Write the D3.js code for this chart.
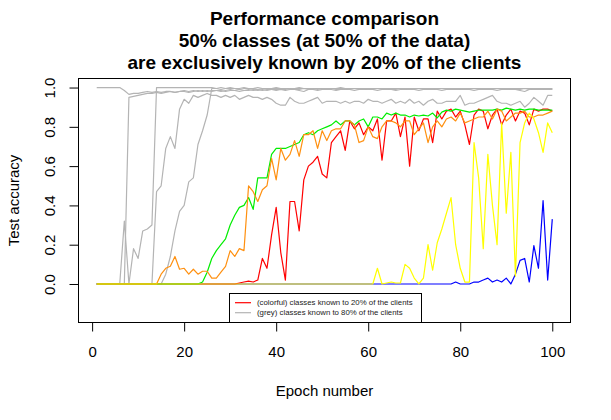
<!DOCTYPE html>
<html>
<head>
<meta charset="utf-8">
<script src="https://cdn.jsdelivr.net/npm/d3@7"></script>
<style>
  body { margin: 0; background: #fff; }
  svg { display: block; font-family: "Liberation Sans", Arial, sans-serif; }
</style>
</head>
<body>
<div id="chart"></div>
<script>
// Test accuracy per epoch, one array per class
const greyA = [
  1, 1, 1, 1, 1, 1, 0.985, 0.965, 0.97, 0.97,
  0.975, 0.98, 0.975, 0.98, 0.975, 0.98, 0.98, 0.975, 0.98, 0.985,
  0.98, 0.985, 0.98, 0.985, 0.98, 0.985, 0.985, 0.98, 0.985, 0.99,
  0.985, 0.98, 0.985, 0.99, 0.985, 0.99, 0.985, 0.99, 0.99, 0.985,
  0.99, 0.985, 0.99, 0.99, 0.985, 0.98, 0.99, 0.99, 0.985, 0.99,
  0.99, 0.99, 0.985, 0.99, 0.99, 0.99, 0.985, 0.99, 0.99, 0.99,
  0.99, 0.985, 0.99, 0.99, 0.99, 0.985, 0.99, 0.99, 0.99, 0.99,
  0.985, 0.99, 0.99, 0.99, 0.99, 0.985, 0.99, 0.99, 0.99, 0.99,
  0.99, 0.99, 0.985, 0.99, 0.99, 0.99, 0.99, 0.985, 0.99, 0.99,
  0.99, 0.99, 0.985, 0.98, 0.99, 0.99, 0.99, 0.99, 0.99, 0.99
];
const greyB = [
  0, 0, 0, 0, 0, 0, 0.32, 0, 0.18, 0.13,
  0.27, 0.28, 0.30, 1, 1, 1, 1, 1, 1, 1,
  1, 1, 1, 1, 1, 1, 0.995, 1, 0.995, 1,
  0.995, 0.995, 1, 0.995, 0.995, 1, 0.995, 0.995, 0.995, 1,
  0.995, 0.995, 0.995, 0.995, 1, 0.995, 0.995, 0.995, 0.995, 0.995,
  0.995, 0.995, 0.995, 1, 0.995, 0.995, 0.995, 0.995, 0.995, 0.995,
  0.995, 0.995, 0.995, 0.995, 0.995, 0.995, 0.995, 0.995, 0.995, 0.995,
  0.995, 0.995, 0.995, 0.995, 0.995, 0.995, 0.995, 0.995, 0.995, 0.995,
  0.995, 0.995, 0.995, 0.995, 0.995, 0.995, 0.995, 0.995, 0.995, 0.995,
  0.995, 0.995, 0.995, 0.995, 0.995, 0.995, 0.995, 0.995, 0.995, 0.995
];
const greyC = [
  0, 0, 0, 0, 0, 0, 0, 0.95, 0.955, 0.96,
  0.965, 0.97, 0.97, 0.975, 0.97, 0.975, 0.98, 0.975, 0.98, 0.98,
  0.975, 0.98, 0.985, 0.98, 0.985, 0.98, 0.985, 0.985, 0.98, 0.985,
  0.985, 0.99, 0.985, 0.985, 0.99, 0.985, 0.99, 0.985, 0.99, 0.99,
  0.99, 0.99, 0.995, 0.99, 0.99, 0.995, 0.99, 0.99, 0.995, 0.99,
  0.99, 0.995, 0.99, 0.99, 0.995, 0.99, 0.995, 0.99, 0.99, 0.995,
  0.99, 0.995, 0.99, 0.995, 0.99, 0.99, 0.995, 0.99, 0.995, 0.99,
  0.995, 0.99, 0.99, 0.995, 0.99, 0.995, 0.99, 0.99, 0.995, 0.99,
  0.995, 0.99, 0.995, 0.99, 0.99, 0.995, 0.99, 0.995, 0.99, 0.99,
  0.995, 0.99, 0.99, 0.995, 0.99, 0.995, 0.99, 0.99, 0.995, 0.99
];
const greyD = [
  0, 0, 0, 0, 0, 0, 0, 0, 0, 0,
  0, 0, 0, 0.47, 0.50, 0.69, 0.75, 0.69, 0.89, 0.94,
  0.92, 0.96, 0.95, 0.96, 0.97, 0.96, 0.96, 0.95, 0.96, 0.95,
  0.96, 0.94, 0.95, 0.96, 0.95, 0.95, 0.94, 0.95, 0.94, 0.92,
  0.91, 0.91, 0.95, 0.93, 0.92, 0.92, 0.93, 0.94, 0.95, 0.92,
  0.93, 0.93, 0.93, 0.92, 0.93, 0.92, 0.93, 0.93, 0.92, 0.94,
  0.93, 0.93, 0.92, 0.93, 0.94, 0.92, 0.93, 0.92, 0.94, 0.92,
  0.93, 0.91, 0.93, 0.94, 0.92, 0.92, 0.93, 0.93, 0.93, 0.96,
  0.91, 0.92, 0.92, 0.93, 0.94, 0.95, 0.96, 0.93, 0.92, 0.92,
  0.91, 0.92, 0.93, 0.90, 0.92, 0.95, 0.93, 0.91, 0.96, 0.96
];
const greyE = [
  0, 0, 0, 0, 0, 0, 0, 0, 0, 0,
  0, 0, 0, 0, 0, 0.05, 0.14, 0.27, 0.37, 0.40,
  0.52, 0.54, 0.71, 0.78, 0.86, 0.995, 0.995, 0.99, 0.995, 0.995,
  0.995, 0.99, 0.995, 0.995, 0.995, 0.99, 0.995, 0.995, 0.995, 0.995,
  0.995, 0.995, 0.99, 0.995, 0.995, 0.995, 0.995, 0.995, 0.99, 0.995,
  0.995, 0.995, 0.995, 0.995, 0.995, 0.995, 0.995, 0.995, 0.995, 0.995,
  0.995, 0.995, 0.995, 0.995, 0.995, 0.995, 0.995, 0.995, 0.995, 0.995,
  0.995, 0.995, 0.995, 0.995, 0.995, 0.995, 0.995, 0.995, 0.995, 0.995,
  0.995, 0.995, 0.995, 0.995, 0.995, 0.995, 0.995, 0.995, 0.995, 0.995,
  0.995, 0.995, 0.995, 0.995, 0.995, 0.995, 0.995, 0.995, 0.995, 0.995
];
const blueVals = [
  0, 0, 0, 0, 0, 0, 0, 0, 0, 0,
  0, 0, 0, 0, 0, 0, 0, 0, 0, 0,
  0, 0, 0, 0, 0, 0, 0, 0, 0, 0,
  0, 0, 0, 0, 0, 0, 0, 0, 0, 0,
  0, 0, 0, 0, 0, 0, 0, 0, 0, 0,
  0, 0, 0, 0, 0, 0, 0, 0, 0, 0,
  0, 0, 0, 0, 0, 0, 0, 0, 0, 0,
  0, 0, 0, 0, 0, 0, 0, 0, 0.01, 0,
  0, 0, 0.01, 0.01, 0.02, 0.03, 0.01, 0.02, 0.01, 0.03,
  0, 0.05, 0.12, 0.13, 0.01, 0.195, 0.08, 0.425, 0.02, 0.33
];
const redVals = [
  0, 0, 0, 0, 0, 0, 0, 0, 0, 0,
  0, 0, 0, 0, 0, 0, 0, 0, 0, 0,
  0, 0, 0, 0, 0, 0, 0, 0, 0, 0,
  0, 0.005, 0.01, 0.015, 0.01, 0.02, 0.13, 0.08, 0.25, 0.39,
  0.16, 0.02, 0.42, 0.42, 0.27, 0.53, 0.60, 0.62, 0.65, 0.56,
  0.54, 0.72, 0.75, 0.78, 0.68, 0.83, 0.79, 0.82, 0.76, 0.80,
  0.78, 0.84, 0.63, 0.83, 0.83, 0.87, 0.75, 0.85, 0.60, 0.85,
  0.78, 0.84, 0.84, 0.72, 0.88, 0.84, 0.88, 0.89, 0.85, 0.88,
  0.81, 0.71, 0.86, 0.89, 0.88, 0.79, 0.86, 0.89, 0.81, 0.86,
  0.89, 0.83, 0.88, 0.87, 0.81, 0.89, 0.88, 0.89, 0.89, 0.88
];
const greenVals = [
  0, 0, 0, 0, 0, 0, 0, 0, 0, 0,
  0, 0, 0, 0, 0, 0, 0, 0, 0, 0,
  0, 0, 0, 0.01, 0.06, 0.13, 0.17, 0.20, 0.23, 0.30,
  0.35, 0.39, 0.40, 0.44, 0.38, 0.54, 0.54, 0.54, 0.66, 0.69,
  0.69, 0.69, 0.70, 0.71, 0.72, 0.76, 0.77, 0.76, 0.78, 0.79,
  0.80, 0.81, 0.83, 0.81, 0.83, 0.83, 0.81, 0.83, 0.84, 0.80,
  0.85, 0.85, 0.84, 0.87, 0.86, 0.87, 0.86, 0.86, 0.85, 0.86,
  0.855, 0.86, 0.855, 0.87, 0.845, 0.875, 0.885, 0.88, 0.89, 0.885,
  0.88, 0.875, 0.88, 0.885, 0.885, 0.885, 0.885, 0.89, 0.885, 0.895,
  0.89, 0.885, 0.89, 0.885, 0.89, 0.89, 0.885, 0.885, 0.885, 0.885
];
const orangeVals = [
  0, 0, 0, 0, 0, 0, 0, 0, 0, 0,
  0, 0, 0, 0, 0.05, 0.08, 0.09, 0.14, 0.075, 0.08,
  0.05, 0.075, 0.05, 0.065, 0.065, 0.03, 0.03, 0.06, 0.09, 0.17,
  0.14, 0.18, 0.17, 0.50, 0.47, 0.42, 0.48, 0.50, 0.64, 0.53,
  0.69, 0.63, 0.66, 0.73, 0.65, 0.76, 0.76, 0.78, 0.69, 0.78,
  0.73, 0.78, 0.79, 0.79, 0.83, 0.83, 0.81, 0.72, 0.73, 0.80,
  0.75, 0.74, 0.80, 0.83, 0.83, 0.82, 0.80, 0.83, 0.83, 0.76,
  0.79, 0.82, 0.72, 0.80, 0.83, 0.80, 0.84, 0.85, 0.83, 0.87,
  0.82, 0.83, 0.84, 0.85, 0.85, 0.88, 0.84, 0.89, 0.88, 0.83,
  0.85, 0.87, 0.87, 0.88, 0.85, 0.85, 0.86, 0.86, 0.87, 0.88
];
const yellowVals = [
  0, 0, 0, 0, 0, 0, 0, 0, 0, 0,
  0, 0, 0, 0, 0, 0, 0, 0, 0, 0,
  0, 0, 0, 0, 0, 0, 0, 0, 0, 0,
  0, 0, 0, 0, 0, 0, 0, 0, 0, 0,
  0, 0, 0, 0, 0, 0, 0, 0, 0, 0,
  0, 0, 0, 0, 0, 0, 0, 0, 0, 0,
  0, 0.08, 0, 0.005, 0.01, 0.005, 0.005, 0.10, 0.08, 0.03,
  0, 0.03, 0.20, 0.07, 0.21, 0.28, 0.36, 0.44, 0.20, 0.08,
  0.01, 0.01, 0.72, 0.54, 0.18, 0.66, 0.40, 0.20, 0.82, 0.36,
  0.67, 0.04, 0.72, 0.82, 0.87, 0.84, 0.77, 0.67, 0.82, 0.77
];

const xTicks = [0, 20, 40, 60, 80, 100];
const yTicks = [0, 0.2, 0.4, 0.6, 0.8, 1.0];
const yTickLabels = ["0.0", "0.2", "0.4", "0.6", "0.8", "1.0"];
const titleLines = [
  "Performance comparison",
  "50% classes (at 50% of the data)",
  "are exclusively known by 20% of the clients"
];
const legendLabels = [
  "(colorful) classes known to 20% of the clients",
  "(grey) classes known to 80% of the clients"
];

const W = 611, H = 420;
const box = { left: 78.5, right: 570.5, top: 78.5, bottom: 322.5 };

const svg = d3.select("#chart").append("svg")
  .attr("width", W)
  .attr("height", H);

svg.append("rect").attr("width", W).attr("height", H).attr("fill", "#fff");

// R style: 4% padding round the data range
const x = d3.scaleLinear().domain([-2.96, 103.96]).range([box.left, box.right]);
const y = d3.scaleLinear().domain([-0.196, 1.046]).range([box.bottom, box.top]);

const epochs = d3.range(1, greyA.length + 1);

const line = d3.line()
  .x((d, i) => x(epochs[i]))
  .y(d => y(d));

const series = [
  { vals: greyA, color: "#b4b4b4" },
  { vals: greyB, color: "#b4b4b4" },
  { vals: greyC, color: "#b4b4b4" },
  { vals: greyD, color: "#b4b4b4" },
  { vals: greyE, color: "#b4b4b4" },
  { vals: blueVals, color: "#0000ff" },
  { vals: redVals, color: "#ff0000" },
  { vals: greenVals, color: "#00ee00" },
  { vals: orangeVals, color: "#ff9010" },
  { vals: yellowVals, color: "#ffff00" }
];

svg.append("g")
  .selectAll("path")
  .data(series)
  .enter()
  .append("path")
  .attr("d", d => line(d.vals))
  .attr("fill", "none")
  .attr("stroke", d => d.color)
  .attr("stroke-width", 1.2)
  .attr("stroke-linejoin", "round");

// plot frame
svg.append("rect")
  .attr("x", box.left)
  .attr("y", box.top)
  .attr("width", box.right - box.left)
  .attr("height", box.bottom - box.top)
  .attr("fill", "none")
  .attr("stroke", "#000")
  .attr("stroke-width", 1);

// x axis
const xAxis = svg.append("g")
  .attr("transform", `translate(0,${box.bottom})`)
  .call(d3.axisBottom(x).tickValues(xTicks).tickSize(9).tickPadding(15).tickSizeOuter(0));
xAxis.select(".domain")
  .attr("d", `M${x(xTicks[0])},0H${x(xTicks[xTicks.length - 1])}`);
xAxis.selectAll("text")
  .style("font-size", "15px")
  .attr("fill", "#000");

// y axis, labels turned like R's default
const yAxis = svg.append("g")
  .attr("transform", `translate(${box.left},0)`)
  .call(d3.axisLeft(y).tickValues(yTicks).tickSize(9).tickSizeOuter(0)
    .tickFormat((d, i) => yTickLabels[i]));
yAxis.select(".domain")
  .attr("d", `M0,${y(yTicks[0])}V${y(yTicks[yTicks.length - 1])}`);
yAxis.selectAll("text")
  .attr("x", null)
  .attr("dy", null)
  .attr("text-anchor", "middle")
  .attr("transform", "translate(-23.5,0) rotate(-90)")
  .style("font-size", "15px")
  .attr("fill", "#000");

// title
svg.append("g")
  .selectAll("text")
  .data(titleLines)
  .enter()
  .append("text")
  .attr("x", (box.left + box.right) / 2)
  .attr("y", (d, i) => 25 + i * 22)
  .attr("text-anchor", "middle")
  .style("font-size", "19px")
  .style("font-weight", "bold")
  .text(d => d);

// axis labels
svg.append("text")
  .attr("x", (box.left + box.right) / 2)
  .attr("y", 396)
  .attr("text-anchor", "middle")
  .style("font-size", "15px")
  .text("Epoch number");

svg.append("text")
  .attr("transform", `translate(19,${(box.top + box.bottom) / 2}) rotate(-90)`)
  .attr("text-anchor", "middle")
  .style("font-size", "15px")
  .text("Test accuracy");

// legend
const legend = svg.append("g");
legend.append("rect")
  .attr("x", 229.5)
  .attr("y", 293.5)
  .attr("width", 192)
  .attr("height", box.bottom - 293.5)
  .attr("fill", "#fff")
  .attr("stroke", "#000")
  .attr("stroke-width", 1);

const legendColors = ["#ff0000", "#b4b4b4"];
legendLabels.forEach((label, i) => {
  const ly = 302.7 + i * 10;
  legend.append("line")
    .attr("x1", 235).attr("x2", 251)
    .attr("y1", ly).attr("y2", ly)
    .attr("stroke", legendColors[i])
    .attr("stroke-width", 1.2);
  legend.append("text")
    .attr("x", 257)
    .attr("y", ly)
    .attr("dy", "0.35em")
    .style("font-size", "7.8px")
    .attr("fill", "#222")
    .text(label);
});
</script>
</body>
</html>
